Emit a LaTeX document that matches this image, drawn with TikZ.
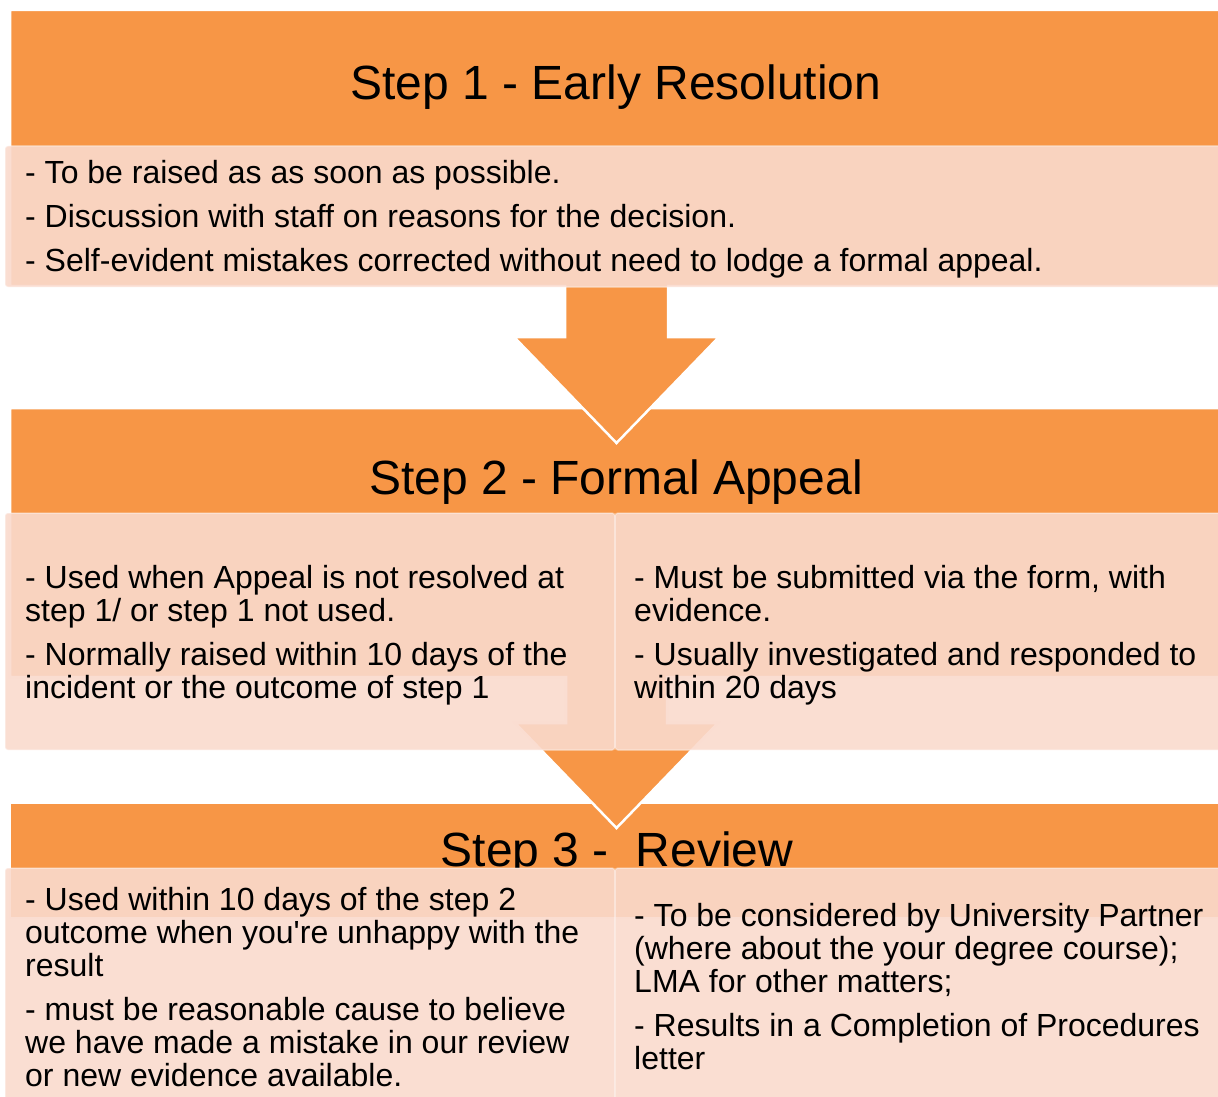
\documentclass[tikz,border=0pt]{standalone}
\usepackage{fontspec}
\setmainfont{Liberation Sans}
\definecolor{stepor}{RGB}{247,150,70}
\definecolor{bodypeach}{RGB}{250,218,205}
\begin{document}
\begin{tikzpicture}[x=1pt,y=-1pt,
  stepshape/.style={fill=stepor, draw=white, line width=2.5pt, line join=miter},
  bodybox/.style={fill=bodypeach, fill opacity=0.9, draw=white, draw opacity=0.35, line width=1.5pt, rounded corners=3pt},
  steptitle/.style={font=\fontsize{48}{55}\selectfont, inner sep=0pt, anchor=base},
  item/.style={font=\fontsize{32}{33}\selectfont, inner sep=0pt, anchor=base west, align=left},
]
\useasboundingbox (0,0) rectangle (1218,1097);
\clip (0,0) rectangle (1218,1097);

% ---------- Step 3 ----------
% (multi-line items are placed by the baseline of their last line)
\path[stepshape] (10,803) rectangle (1232,918);
\begin{scope}
  \clip (0,790) rectangle (1218,867);
  \node[steptitle] (t3) at (617,866) {Step 3 -\ \ Review};
\end{scope}
\path[bodybox] (5,868) rectangle (615,1110);
\path[bodybox] (615,868) rectangle (1232,1110);
\node[item] (s3a) at (25,976) {- Used within 10 days of the step 2\\outcome when you\textquotesingle re unhappy with the\\result};
\node[item] (s3b) at (25,1086) {- must be reasonable cause to believe\\we have made a mistake in our review\\or new evidence available.};
\node[item] (s3c) at (634,992) {- To be considered by University Partner\\(where about the your degree course);\\LMA for other matters;};
\node[item] (s3d) at (634,1069) {- Results in a Completion of Procedures\\letter};

% ---------- Step 2 ----------
\path[stepshape] (10,408) -- (1232,408) -- (1232,677) -- (667,677) -- (667,723)
  -- (718,723) -- (616.5,828) -- (515,723) -- (566,723) -- (566,677) -- (10,677) -- cycle;
\node[steptitle] (t2) at (616,494) {Step 2 - Formal Appeal};
\path[bodybox] (5,513) rectangle (615,750);
\path[bodybox] (615,513) rectangle (1232,750);
\node[item] (s2a) at (25,621) {- Used when Appeal is not resolved at\\step 1/ or step 1 not used.};
\node[item] (s2b) at (25,698) {- Normally raised within 10 days of the\\incident or the outcome of step 1};
\node[item] (s2c) at (634,621) {- Must be submitted via the form, with\\evidence.};
\node[item] (s2d) at (634,698) {- Usually investigated and responded to\\within 20 days};

% ---------- Step 1 ----------
\path[stepshape] (10,10) -- (1232,10) -- (1232,286) -- (668,286) -- (668,337)
  -- (719,337) -- (616.5,443) -- (514,337) -- (565,337) -- (565,286) -- (10,286) -- cycle;
\node[steptitle] (t1) at (616,100) {Step 1 - Early Resolution};
\path[bodybox] (5,146) rectangle (1232,287);
\node[item] (s1a) at (25,183) {- To be raised as as soon as possible.};
\node[item] (s1b) at (25,227) {- Discussion with staff on reasons for the decision.};
\node[item] (s1c) at (25,271) {- Self-evident mistakes corrected without need to lodge a formal appeal.};
\end{tikzpicture}
\end{document}
